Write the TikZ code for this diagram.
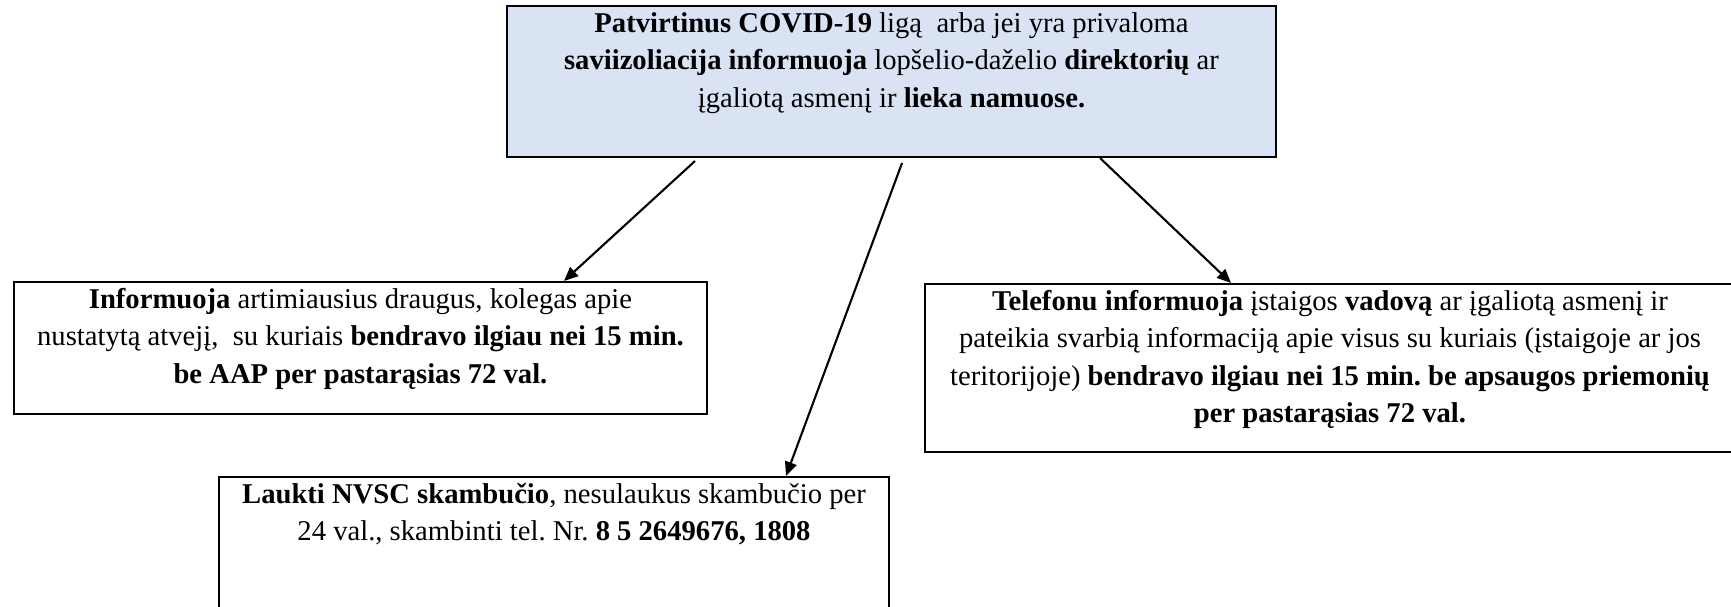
\documentclass[tikz,border=0pt]{standalone}
\usepackage{fontspec}
\setmainfont{Liberation Serif}
\usepackage{xcolor}
\usetikzlibrary{calc,arrows.meta}
\definecolor{boxblue}{RGB}{218,227,243}
\tikzset{box/.style={draw,line width=1.2pt,inner sep=0pt,font=\fontsize{16.3}{21.3}\selectfont\frenchspacing}}

\begin{document}
\begin{tikzpicture}[>={Triangle[length=0.28cm,width=0.24cm]}, x=0.02cm, y=-0.02cm]
        \clip (0,0) rectangle (1731,607);
        \node[box,fill=boxblue] (top) at (891.5,81.5) {\parbox[c][3.02cm][t]{15.38cm}{\centering\strut\textbf{Patvirtinus COVID-19} ligą \ arba jei yra privaloma\\
                \textbf{saviizoliacija informuoja} lopšelio-daželio \textbf{direktorių} ar\\
                įgaliotą asmenį ir \textbf{lieka namuose.}}};
        \node[box] (left) at (360.5,348) {\parbox[c][2.64cm][t]{13.86cm}{\centering\strut\textbf{Informuoja} artimiausius draugus, kolegas apie\\
                nustatytą atvejį, \ su kuriais \textbf{bendravo ilgiau nei 15 min.}\\
                \textbf{be AAP per pastarąsias 72 val.}}};
        \node[box] (right) at (1330,368) {\parbox[c][3.36cm][t]{16.2cm}{\centering\strut\textbf{Telefonu informuoja} įstaigos \textbf{vadovą} ar įgaliotą asmenį ir\\
                pateikia svarbią informaciją apie visus su kuriais (įstaigoje ar jos\\
                teritorijoje) \textbf{bendravo ilgiau nei 15 min. be apsaugos priemonių}\\
                \textbf{per pastarąsias 72 val.}}};
        \node[box] (bottom) at (554,558.5) {\parbox[c][3.26cm][t]{13.4cm}{\centering\strut\textbf{Laukti NVSC skambučio}, nesulaukus skambučio per\\
                24 val., skambinti tel. Nr. \textbf{8 5 2649676, 1808}}};

        \draw [->,line width=1.2pt] ($(top.south west)+(189,3)$) -- ($(left.north west)+(551,0)$);
        \draw [->,line width=1.2pt] ($(top.south west)+(396,5)$) -- ($(bottom.north west)+(568,0)$);
        \draw [->,line width=1.2pt] ($(top.south west)+(594,0)$) -- ($(right.north west)+(307,0)$);
    \end{tikzpicture}
\end{document}
